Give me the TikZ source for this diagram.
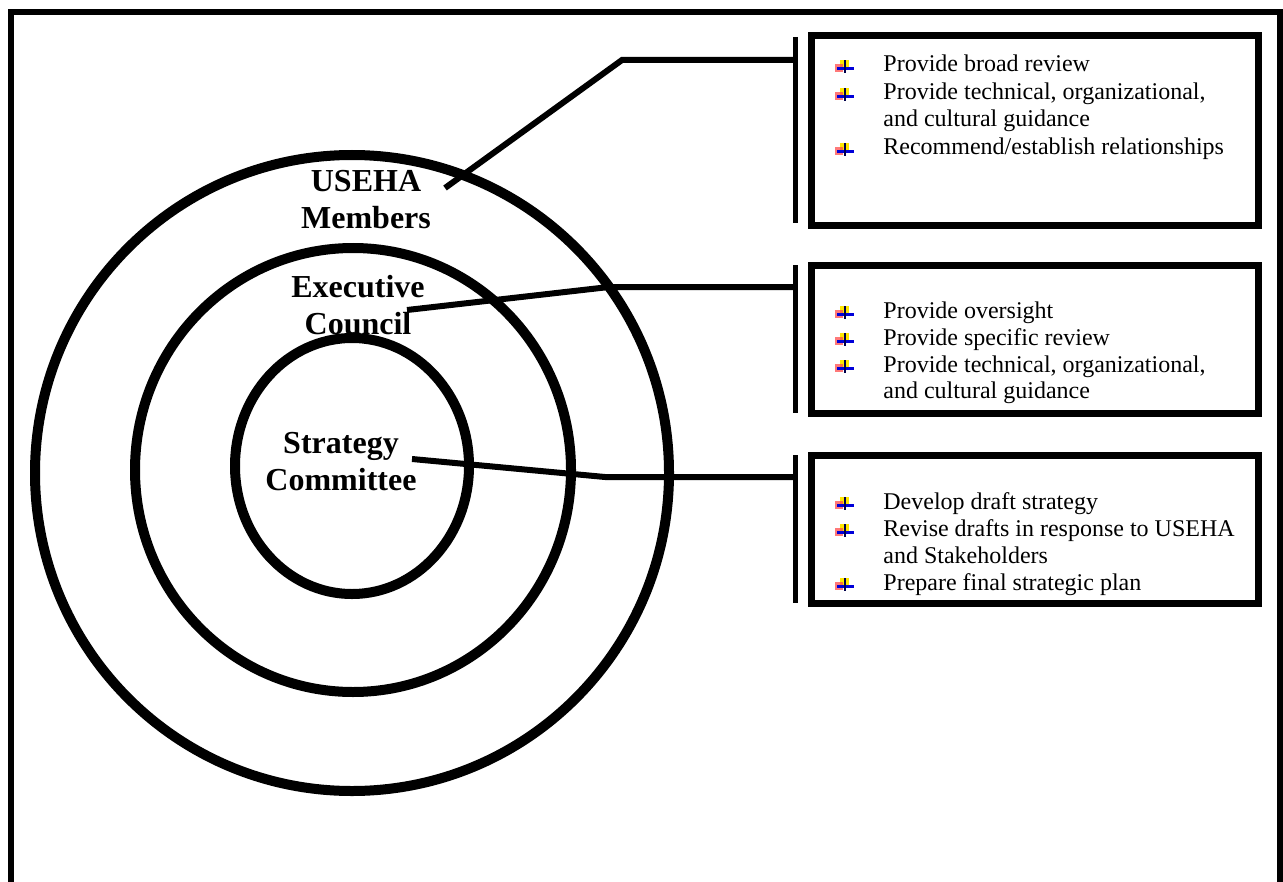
\documentclass[tikz,border=0pt]{standalone}
\usepackage{fontspec}
\setmainfont{Liberation Serif}

\begin{document}
\begin{tikzpicture}[x=0.5pt,y=-0.5pt,
    ring/.style={line width=5pt},
    link/.style={line width=3pt},
    bar/.style={line width=2.5pt},
    infobox/.style={draw,line width=3.5pt,minimum width=223.5pt,inner sep=0pt},
    lbl/.style={font=\fontsize{16}{18.5}\selectfont\bfseries,align=center,inner sep=0pt},
    item/.style={font=\fontsize{12}{13.5}\selectfont,anchor=base west,inner sep=0pt},
    bulleticon/.pic={
        \fill[yellow!90!orange] (-5,-12) rectangle (4,-5);
        \fill[red!70,opacity=0.75] (-10,-8) rectangle (-2,0);
        \fill[blue!85!black] (-8,-5) rectangle (9,-2);
        \fill[black!70!blue] (-1,-12) rectangle (1.2,1);
    }]
        \useasboundingbox (0,0) rectangle (1283,882);

        % 外框
        \draw[line width=3pt] (10.5,900) -- (10.5,12) -- (1279.5,12) -- (1279.5,900);

        % 画三个圆
        \draw[ring] (352,473) circle[x radius=317,y radius=318];  % USEHA
        \draw[ring] (353,470) circle[x radius=218,y radius=222];  % Executive Council
        \draw[ring] (352,466) circle[x radius=117,y radius=128];  % Strategy Committee

        % 圆内标签
        \node[lbl] (useha) at (366,200) {USEHA\\Members};
        \node[lbl] (exec) at (358,305) {Executive\\Council};
        \node[lbl] (strat) at (341,462) {Strategy\\Committee};
        \coordinate (usehaend) at (445,188);
        \coordinate (execend) at (407,310);
        \coordinate (stratend) at (412,459);

        % 右侧三个方框
        \node[infobox,minimum height=95pt] (box1) at (1035,130.5) {};
        \node[infobox,minimum height=74pt] (box2) at (1035,339.5) {};
        \node[infobox,minimum height=74pt] (box3) at (1035,529.5) {};

        % 竖线
        \coordinate (bar1n) at (795.5,37);  \coordinate (bar1s) at (795.5,223);
        \coordinate (bar2n) at (795.5,265); \coordinate (bar2s) at (795.5,413);
        \coordinate (bar3n) at (795.5,455); \coordinate (bar3s) at (795.5,603);
        \coordinate (bar1m) at (795.5,60);
        \coordinate (bar2m) at (795.5,287);
        \coordinate (bar3m) at (795.5,477);
        \draw[bar] (bar1n) -- (bar1s);
        \draw[bar] (bar2n) -- (bar2s);
        \draw[bar] (bar3n) -- (bar3s);

        % 连线
        \draw[link] (usehaend) -- (622,60) -- (bar1m);
        \draw[link] (execend) -- (609,287) -- (bar2m);
        \draw[link] (stratend) -- (605,477) -- (bar3m);

        % 第一个方框的文字
        \pic at (845,72) {bulleticon};
        \node[item] (t11) at (883,72) {Provide broad review};
        \pic at (845,100) {bulleticon};
        \node[item] (t12) at (883,100) {Provide technical, organizational,};
        \node[item] (t13) at (883,127) {and cultural guidance};
        \pic at (845,155) {bulleticon};
        \node[item] (t14) at (883,155) {Recommend/establish relationships};

        % 第二个方框的文字
        \pic at (845,318) {bulleticon};
        \node[item] (t21) at (883,318) {Provide oversight};
        \pic at (845,345) {bulleticon};
        \node[item] (t22) at (883,345) {Provide specific review};
        \pic at (845,372) {bulleticon};
        \node[item] (t23) at (883,372) {Provide technical, organizational,};
        \node[item] (t24) at (883,398) {and cultural guidance};

        % 第三个方框的文字
        \pic at (845,509) {bulleticon};
        \node[item] (t31) at (883,509) {Develop draft strategy};
        \pic at (845,536) {bulleticon};
        \node[item] (t32) at (883,536) {Revise drafts in response to USEHA};
        \node[item] (t33) at (883,563) {and Stakeholders};
        \pic at (845,590) {bulleticon};
        \node[item] (t34) at (883,590) {Prepare final strategic plan};
    \end{tikzpicture}
\end{document}
